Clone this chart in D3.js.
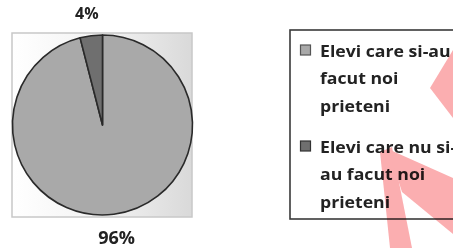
<!DOCTYPE html>
<html><head><meta charset="utf-8">
<script src="https://cdn.jsdelivr.net/npm/d3@7/dist/d3.min.js"></script>
<style>
html,body{margin:0;padding:0;background:#fff;}
svg{display:block;}
text{font-family:"Open Sans",sans-serif;font-weight:700;fill:#222;}
</style></head><body>
<svg id="c" width="453" height="248"></svg>
<script>
const categories = ["Elevi care si-au facut noi prieteni", "Elevi care nu si-au facut noi prieteni"];
const legendLines = [["Elevi care si-au", "facut noi", "prieteni"], ["Elevi care nu si-", "au facut noi", "prieteni"]];
const values = [96, 4];
const valueLabels = ["96%", "4%"];
const colors = ["#a9a9a9", "#6f6f6f"];

const svg = d3.select("#c");
const defs = svg.append("defs");
const grad = defs.append("linearGradient").attr("id", "bg").attr("x1", "0").attr("x2", "1").attr("y1", "0").attr("y2", "0");
grad.append("stop").attr("offset", "0").attr("stop-color", "#ffffff");
grad.append("stop").attr("offset", "0.55").attr("stop-color", "#f1f1f1");
grad.append("stop").attr("offset", "1").attr("stop-color", "#d9d9d9");

// plot area box
svg.append("rect").attr("x", 12).attr("y", 33).attr("width", 180).attr("height", 184)
  .attr("fill", "url(#bg)").attr("stroke", "#c8c8c8").attr("stroke-width", 1.5);

const cx = 102.5, cy = 125, r = 90;
const pie = d3.pie().sort(null).value(d => d)(values);
const arc = d3.arc().innerRadius(0).outerRadius(r);
const g = svg.append("g").attr("transform", `translate(${cx},${cy})`);
g.selectAll("path").data(pie).join("path")
  .attr("d", arc).attr("fill", (d, i) => colors[i])
  .attr("stroke", "#2a2a2a").attr("stroke-width", 1.6).attr("stroke-linejoin", "round");

const labelArc = d3.arc().innerRadius(113).outerRadius(113);
g.selectAll("text.lbl").data(pie).join("text").attr("class", "lbl")
  .attr("transform", d => { const c = labelArc.centroid(d); return `translate(${c[0] - (d.index === 1 ? 1.5 : 0)},${c[1]})`; })
  .attr("text-anchor", "middle").attr("dy", "0.36em")
  .style("font-size", (d, i) => i === 0 ? "18px" : "16px")
  .text((d, i) => valueLabels[i]);

// legend
svg.append("rect").attr("x", 290).attr("y", 30).attr("width", 200).attr("height", 189)
  .attr("fill", "#fff").attr("stroke", "#3a3a3a").attr("stroke-width", 1.6);
const baseY = [57, 153];
const lg = svg.append("g");
legendLines.forEach((lines, i) => {
  lg.append("rect").attr("x", 300.5).attr("y", baseY[i] - 12).attr("width", 10).attr("height", 10)
    .attr("fill", colors[i]).attr("stroke", i === 0 ? "#555" : "#333").attr("stroke-width", 1.2);
  const t = lg.append("g").attr("transform", `translate(320,0) scale(1.14,1)`);
  lines.forEach((ln, j) => {
    t.append("text").attr("x", 0).attr("y", baseY[i] + j * 27.5)
      .style("font-size", "15.5px").text(ln);
  });
});

// pink marker strokes (scan artifact)
const wm = svg.append("g").style("mix-blend-mode", "multiply").attr("fill", "#fbaeb0");
const polys = [
  [[430, 88], [453, 50], [453, 118]],
  [[380, 152], [392, 147], [412, 248], [390, 248]],
  [[388, 149], [453, 178], [453, 234], [402, 192]]
];
wm.selectAll("path").data(polys).join("path").attr("d", d => d3.line()(d) + "Z");
</script>
</body></html>
